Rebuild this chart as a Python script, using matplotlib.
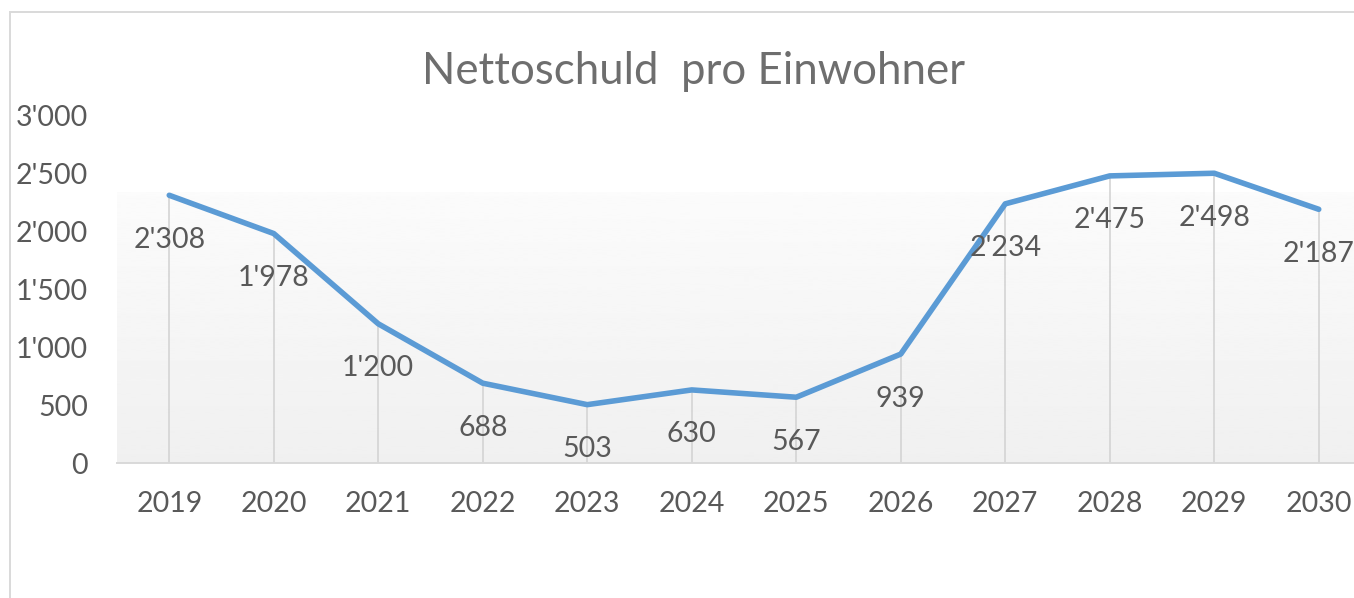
import matplotlib
matplotlib.use("Agg")
import matplotlib.pyplot as plt
import numpy as np
from matplotlib.patches import Rectangle

years = ["2019", "2020", "2021", "2022", "2023", "2024", "2025", "2026", "2027", "2028", "2029", "2030"]
values = [2308, 1978, 1200, 688, 503, 630, 567, 939, 2234, 2475, 2498, 2187]
yticks = [0, 500, 1000, 1500, 2000, 2500, 3000]

def fmt(v):
    return f"{v:,}".replace(",", "'")

plt.rcParams['font.family'] = ['Lato', 'DejaVu Sans']
W, H = 1354, 598
fig = plt.figure(figsize=(W / 100, H / 100), dpi=100)

# chart border
fig.patches.append(Rectangle((10 / W, -0.2), 1.2, 1.2 - 12 / H, transform=fig.transFigure,
                             fill=False, edgecolor='#d9d9d9', linewidth=1.4))

ax = fig.add_axes([117 / W, (H - 463) / H, 1254 / W, (463 - 115) / H])
x = np.arange(len(years))
ax.set_xlim(-0.5, len(years) - 0.5)
ax.set_ylim(0, 3000)

# gradient background
grad = np.linspace(0.94, 0.985, 256).reshape(-1, 1)
ax.imshow(grad, extent=(-0.5, len(years) - 0.5, 0, 2330), origin='lower', cmap='gray',
          vmin=0, vmax=1, aspect='auto', zorder=0)

ax.vlines(x, 0, values, colors='#d4d4d4', linewidth=1.2, zorder=1)
ax.plot(x, values, color='#5B9BD5', linewidth=4.0, solid_joinstyle='round', solid_capstyle='round', zorder=3)

for xi, v in zip(x, values):
    ax.annotate(fmt(v), (xi, v), xytext=(0, -32), textcoords='offset points', ha='center', va='center',
                fontsize=20.5, color='#595959', zorder=4)

for s in ['top', 'right', 'left']:
    ax.spines[s].set_visible(False)
ax.spines['bottom'].set_color('#d9d9d9')
ax.spines['bottom'].set_linewidth(1.4)
ax.set_xticks(x)
ax.set_xticklabels(years)
ax.set_yticks(yticks)
ax.set_yticklabels([fmt(v) for v in yticks])
ax.tick_params(axis='both', length=0, labelsize=20.5, labelcolor='#595959')
ax.tick_params(axis='x', pad=20)
ax.tick_params(axis='y', pad=21)
ax.set_facecolor('none')

fig.text(693 / W, 1 - 72 / H, "Nettoschuld  pro Einwohner", ha='center', va='center',
         fontsize=31.5, color='#6e6e6e')

fig.savefig("out.png", dpi=100)
